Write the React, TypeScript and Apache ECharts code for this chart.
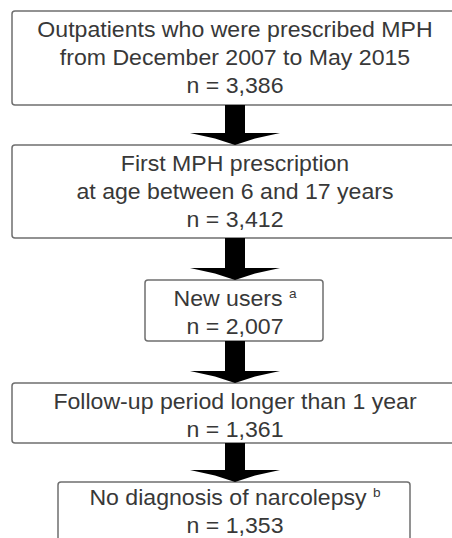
import React, { useEffect, useRef } from "react";
import * as echarts from "echarts";

// ---- data ----
const stepTitles: string[][] = [
  ["Outpatients who were prescribed MPH", "from December 2007 to May 2015"],
  ["First MPH prescription", "at age between 6 and 17 years"],
  ["New users"],
  ["Follow-up period longer than 1 year"],
  ["No diagnosis of narcolepsy"],
];
const stepCounts: number[] = [3386, 3412, 2007, 1361, 1353];
const footnoteMarks: string[] = ["", "", "a", "", "b"];

// ---- layout (positions only) ----
const boxes = [
  { x: 12, y: 11, w: 446, h: 94 },
  { x: 12, y: 145, w: 446, h: 93 },
  { x: 145, y: 280, w: 178, h: 61 },
  { x: 12, y: 383, w: 446, h: 60 },
  { x: 58, y: 482, w: 352, h: 80 },
];
const LINE_GAP = 28;
const CX = 235;
const FONT = "Liberation Sans, Arial, sans-serif";
const TEXT_COLOR = "#383838";
const BORDER = "#6f6f6f";
const SX = 1.05;

export default function App() {
  const ref = useRef<HTMLDivElement>(null);
  useEffect(() => {
    document.body.style.margin = "0";
    if (!ref.current) return;
    const chart = echarts.init(ref.current, null, { renderer: "svg" });
    const elements: any[] = [];
    boxes.forEach((b, i) => {
      elements.push({
        type: "rect",
        shape: { x: b.x, y: b.y, width: b.w, height: b.h, r: 3 },
        style: { fill: "#ffffff", stroke: BORDER, lineWidth: 1.5 },
      });
      const lines = stepTitles[i];
      const firstY = b.y + 19 + (i === 4 ? -3 : 0);
      lines.forEach((ln, j) => {
        const isLast = j === lines.length - 1;
        const mark = isLast ? footnoteMarks[i] : "";
        elements.push({
          type: "text",
          x: CX,
          y: firstY + j * LINE_GAP,
          scaleX: SX,
          style: {
            text: mark ? `{m|${ln} }{s|${mark}}` : `{m|${ln}}`,
            align: "center",
            verticalAlign: "middle",
            fill: TEXT_COLOR,
            font: `22px ${FONT}`,
            rich: {
              m: { fontSize: 22, fontFamily: FONT, fill: TEXT_COLOR, lineHeight: 24 },
              s: { fontSize: 13, fontFamily: FONT, fill: TEXT_COLOR, verticalAlign: "top", lineHeight: 24 },
            },
          },
        });
      });
      elements.push({
        type: "text",
        x: CX,
        y: firstY + lines.length * LINE_GAP,
        scaleX: SX,
        style: {
          text: `n = ${stepCounts[i].toLocaleString("en-US")}`,
          align: "center",
          verticalAlign: "middle",
          fill: TEXT_COLOR,
          font: `22px ${FONT}`,
        },
      });
    });
    // arrows between boxes
    for (let i = 0; i < boxes.length - 1; i++) {
      const top = boxes[i].y + boxes[i].h;
      const next = boxes[i + 1].y;
      const headTop = next - 12;
      elements.push({
        type: "rect",
        shape: { x: CX - 10, y: top, width: 20, height: headTop - top + 0.5 },
        style: { fill: "#000000" },
      });
      elements.push({
        type: "polygon",
        shape: {
          points: [
            [CX - 45, headTop],
            [CX + 45, headTop],
            [CX + 20, headTop + 5.5],
            [CX, headTop + 12],
            [CX - 20, headTop + 5.5],
          ],
        },
        style: { fill: "#000000" },
      });
    }
    chart.setOption({
      animation: false,
      backgroundColor: "#ffffff",
      graphic: { elements },
    });
    return () => chart.dispose();
  }, []);
  return <div ref={ref} style={{ width: 452, height: 538 }} />;
}
